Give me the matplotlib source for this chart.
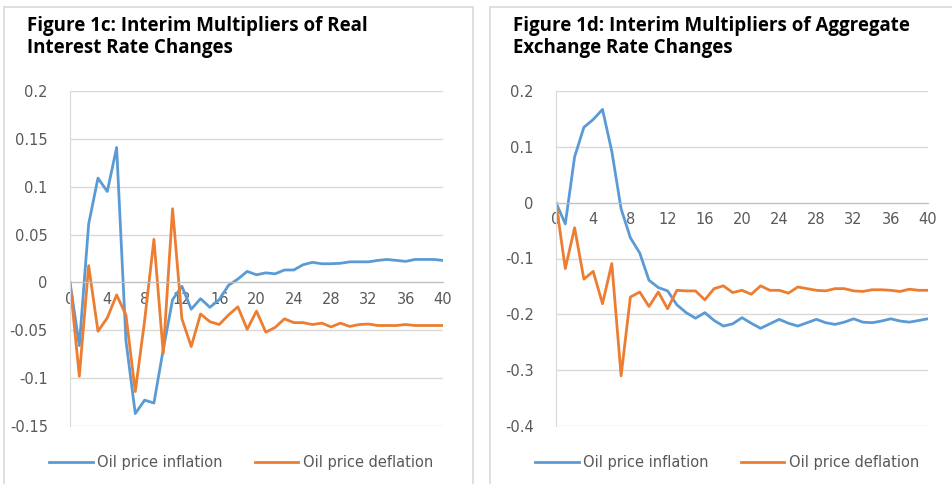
import numpy as np
import matplotlib
matplotlib.use("Agg")
import matplotlib.pyplot as plt
from matplotlib.patches import Rectangle

# horizon 0..40
horizon = list(range(41))

# Figure 1c: real interest rate
rate_infl = [0.0, -0.066, 0.061, 0.109, 0.095, 0.141, -0.061, -0.137, -0.123, -0.126,
             -0.070, -0.018, -0.004, -0.028, -0.017, -0.026, -0.018, -0.003, 0.0035, 0.0115,
             0.008, 0.010, 0.009, 0.013, 0.013, 0.0185, 0.021, 0.0195, 0.0195, 0.020,
             0.0215, 0.0215, 0.0215, 0.023, 0.024, 0.023, 0.022, 0.024, 0.024, 0.024, 0.023]
rate_defl = [0.0, -0.098, 0.0175, -0.051, -0.037, -0.013, -0.034, -0.114, -0.040, 0.045,
             -0.074, 0.077, -0.038, -0.067, -0.033, -0.041, -0.044, -0.034, -0.0255, -0.049,
             -0.030, -0.052, -0.047, -0.038, -0.042, -0.042, -0.044, -0.0425, -0.0465, -0.0425,
             -0.046, -0.044, -0.0435, -0.045, -0.045, -0.045, -0.044, -0.045, -0.045, -0.045, -0.045]

# Figure 1d: aggregate exchange rate
fx_infl = [0.0, -0.038, 0.082, 0.135, 0.149, 0.167, 0.092, -0.011, -0.063, -0.090,
           -0.139, -0.152, -0.158, -0.183, -0.197, -0.207, -0.197, -0.211, -0.221, -0.217,
           -0.206, -0.216, -0.225, -0.217, -0.209, -0.216, -0.221, -0.215, -0.209, -0.215,
           -0.218, -0.214, -0.208, -0.214, -0.215, -0.212, -0.208, -0.212, -0.214, -0.211, -0.208]
fx_defl = [0.0, -0.118, -0.045, -0.137, -0.123, -0.181, -0.109, -0.310, -0.169, -0.160,
           -0.186, -0.160, -0.190, -0.157, -0.158, -0.158, -0.174, -0.154, -0.149, -0.161,
           -0.157, -0.164, -0.149, -0.157, -0.157, -0.162, -0.151, -0.154, -0.157, -0.158,
           -0.154, -0.154, -0.158, -0.159, -0.156, -0.156, -0.157, -0.159, -0.155, -0.157, -0.157]

xticks = list(range(0, 41, 4))
yticks_c = [-0.15, -0.1, -0.05, 0, 0.05, 0.1, 0.15, 0.2]
ylabels_c = ["-0.15", "-0.1", "-0.05", "0", "0.05", "0.1", "0.15", "0.2"]
yticks_d = [-0.4, -0.3, -0.2, -0.1, 0, 0.1, 0.2]
ylabels_d = ["-0.4", "-0.3", "-0.2", "-0.1", "0", "0.1", "0.2"]

BLUE, ORANGE, GREY = "#5B9BD5", "#ED7D31", "#595959"
W, H = 953, 484
plt.rcParams["font.family"] = ["DejaVu Sans"]

fig = plt.figure(figsize=(W / 100, H / 100), dpi=100)

# panel frames
for x0, x1 in [(4, 473), (490, 953)]:
    fig.patches.append(Rectangle((x0 / W, -0.01), (x1 - x0) / W, 1 - 7 / H + 0.01,
                                 transform=fig.transFigure, fill=False,
                                 ec="#d9d9d9", lw=1.2))

panels = [
    ((70, 443), "Figure 1c: Interim Multipliers of Real\nInterest Rate Changes", 27,
     rate_infl, rate_defl, yticks_c, ylabels_c, (-0.15, 0.2), 241),
    ((556, 928), "Figure 1d: Interim Multipliers of Aggregate\nExchange Rate Changes", 513,
     fx_infl, fx_defl, yticks_d, ylabels_d, (-0.4, 0.2), 727),
]

for (px0, px1), title, tx, infl, defl, yt, yl, ylim, lx in panels:
    ax = fig.add_axes([px0 / W, 1 - 426 / H, (px1 - px0) / W, (426 - 91) / H])
    ax.plot(horizon, infl, color=BLUE, lw=2.0, label="Oil price inflation")
    ax.plot(horizon, defl, color=ORANGE, lw=2.0, label="Oil price deflation")
    ax.set_xlim(0, 40)
    ax.set_ylim(*ylim)
    ax.set_yticks(yt)
    ax.set_yticklabels(yl)
    ax.set_xticks(xticks)
    ax.grid(axis="y", color="#d9d9d9", lw=1.0)
    ax.set_axisbelow(True)
    for s in ["top", "right"]:
        ax.spines[s].set_visible(False)
    ax.spines["left"].set_color("#d9d9d9")
    ax.spines["bottom"].set_position(("data", 0))
    ax.spines["bottom"].set_color("#bfbfbf")
    ax.tick_params(length=0, labelsize=10.5, colors=GREY)
    ax.tick_params(axis="y", pad=16)
    ax.tick_params(axis="x", pad=7)
    fig.text(tx / W, 1 - 16 / H, title, ha="left", va="top", fontsize=13.5,
             fontweight="bold", color="black", linespacing=1.15,
             family=["Open Sans", "DejaVu Sans"])
    ax.legend(loc="center", bbox_to_anchor=(lx / W, 1 - 463 / H),
              bbox_transform=fig.transFigure, ncol=2, frameon=False,
              fontsize=10.5, labelcolor=GREY, handlelength=3.0, columnspacing=2.2,
              handletextpad=0.3)

fig.savefig("out.png", dpi=100)
